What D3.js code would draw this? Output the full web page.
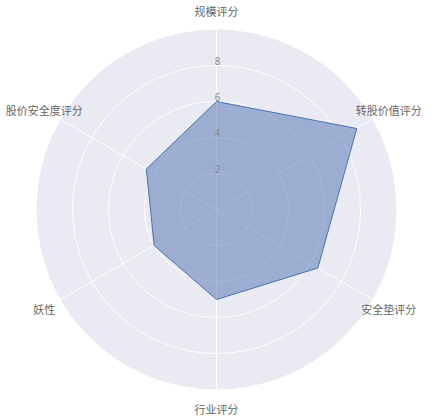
<!DOCTYPE html>
<html>
<head>
<meta charset="utf-8">
<script src="https://cdn.jsdelivr.net/npm/d3@7"></script>
<style>
  html, body { margin: 0; padding: 0; background: #fff; }
  svg { display: block; }
</style>
</head>
<body>
<svg id="chart"></svg>
<script>
// axes, clockwise from the top
const categories = ['规模评分', '转股价值评分', '安全垫评分', '行业评分', '妖性', '股价安全度评分'];
const scores = [6, 9, 6.5, 5, 4, 4.5];
const radialTicks = [2, 4, 6, 8];
const radialMax = 10;

const width = 432, height = 420;
const cx = 216.5, cy = 209.5, outer = 180;

const svg = d3.select('#chart')
  .attr('width', width)
  .attr('height', height)
  .style('font-family', '"Noto Sans CJK SC", "Noto Sans", sans-serif');

const r = d3.scaleLinear().domain([0, radialMax]).range([0, outer]);
const angle = d3.scaleLinear()
  .domain([0, categories.length])
  .range([0, 2 * Math.PI]);

const g = svg.append('g').attr('transform', `translate(${cx},${cy})`);

// background disc
g.append('circle')
  .attr('r', r(radialMax))
  .attr('fill', '#eaeaf2');

// radial grid circles
g.selectAll('circle.grid')
  .data(radialTicks)
  .enter()
  .append('circle')
  .attr('class', 'grid')
  .attr('r', d => r(d))
  .attr('fill', 'none')
  .attr('stroke', '#fff')
  .attr('stroke-width', 1);

// spokes
g.selectAll('line.spoke')
  .data(categories)
  .enter()
  .append('line')
  .attr('class', 'spoke')
  .attr('x1', 0)
  .attr('y1', 0)
  .attr('x2', (d, i) => r(radialMax) * Math.sin(angle(i)))
  .attr('y2', (d, i) => -r(radialMax) * Math.cos(angle(i)))
  .attr('stroke', '#fff')
  .attr('stroke-width', 1);

// the data polygon
const radar = d3.lineRadial()
  .angle((d, i) => angle(i))
  .radius(d => r(d))
  .curve(d3.curveLinearClosed);

g.append('path')
  .datum(scores)
  .attr('d', radar)
  .attr('fill', 'rgba(76,114,176,0.5)')
  .attr('stroke', '#4c72b0')
  .attr('stroke-width', 1);

// radial tick labels along the vertical axis
g.selectAll('text.tick')
  .data(radialTicks)
  .enter()
  .append('text')
  .attr('class', 'tick')
  .attr('x', 1)
  .attr('y', d => -r(d) - 1)
  .attr('text-anchor', 'middle')
  .attr('font-size', 10)
  .attr('fill', '#888')
  .text(d => d);

// category labels
g.selectAll('text.cat')
  .data(categories)
  .enter()
  .append('text')
  .attr('class', 'cat')
  .attr('x', (d, i) => 199 * Math.sin(angle(i)))
  .attr('y', (d, i) => -199 * Math.cos(angle(i)))
  .attr('text-anchor', 'middle')
  .attr('dominant-baseline', 'central')
  .attr('font-size', 11)
  .attr('fill', '#666')
  .text(d => d);
</script>
</body>
</html>
